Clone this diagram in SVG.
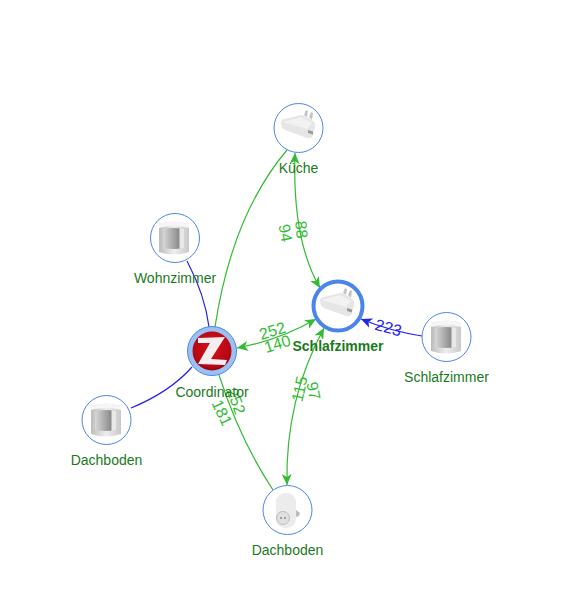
<svg xmlns="http://www.w3.org/2000/svg" width="581" height="595" viewBox="0 0 581 595">
<style>
.n{fill:#fff;stroke:#4a86e8;stroke-width:1}
.t{font-family:"Liberation Sans",Arial,sans-serif;font-size:14px;fill:#1a7a1a;text-anchor:middle}
.b{font-weight:bold}
.g{fill:none;stroke:#33bb33;stroke-width:1.2}
.u{fill:none;stroke:#2222ee;stroke-width:1.2}
.lg{font-family:"Liberation Sans",Arial,sans-serif;font-size:16px;fill:#33bb33;text-anchor:middle}
.lu{font-family:"Liberation Sans",Arial,sans-serif;font-size:16px;fill:#2222ee;text-anchor:middle}
</style>
<defs>
<marker id="ag" markerUnits="userSpaceOnUse" markerWidth="12" markerHeight="10" refX="11" refY="5" orient="auto-start-reverse"><path d="M0 0L11 5L0 10L3 5Z" fill="#33bb33"/></marker>
<marker id="au" markerUnits="userSpaceOnUse" markerWidth="12" markerHeight="10" refX="11" refY="5" orient="auto"><path d="M0 0L11 5L0 10L3 5Z" fill="#2222ee"/></marker>
<linearGradient id="sg" x1="0" x2="1" y1="0" y2="0"><stop offset="0" stop-color="#d8d8d8"/><stop offset=".75" stop-color="#8c8c8c"/><stop offset=".82" stop-color="#e8e8e8"/><stop offset="1" stop-color="#e8e8e8"/></linearGradient>
<linearGradient id="sb" x1="0" x2="1" y1="0" y2="0"><stop offset="0" stop-color="#bdbdbd"/><stop offset=".5" stop-color="#eeeeee"/><stop offset="1" stop-color="#c8c8c8"/></linearGradient>
<radialGradient id="zg" cx=".5" cy=".4" r=".65"><stop offset="0" stop-color="#d8101c"/><stop offset=".8" stop-color="#b00814"/><stop offset="1" stop-color="#7a0010"/></radialGradient>
<g id="sensor"><path d="M-15 -14Q0 -19 15 -14V14Q0 19 -15 14Z" fill="url(#sb)"/><path d="M-15 -14Q0 -19 15 -14V-10Q0 -14 -15 -10Z" fill="#f6f6f6"/><path d="M-11 -9Q0 -11 10 -9V10Q0 12 -11 10Z" fill="url(#sg)"/></g>
<g id="charger"><path d="M6 -10L8 -15L10 -14L9 -8M11 -8L13 -13L15 -12L14 -5" fill="#c4c4c4"/><path d="M-17 -2Q-17 -6 -13 -6L3 -10Q6 -10 9 -8L15 -4Q18 -2 17 2L15 10Q14 14 9 13L-13 5Q-17 3 -17 -2Z" fill="#e6e6e6"/><path d="M-15 -3L3 -8L14 -2L9 4Z" fill="#f2f2f2"/><path d="M10 5l5 1.500v3l-5-1.500Z" fill="#9a9a9a"/></g>
</defs>
<g id="connectors">
<path class="g" d="M215 327Q232 215 287 150"/>
<path class="u" d="M187 261Q205 295 209 327"/>
<path class="u" d="M131 408Q170 392 192 367"/>
<path class="g" d="M237 348Q280 340 316 319" marker-start="url(#ag)" marker-end="url(#ag)"/>
<path class="g" d="M295 153Q292 240 320 288" marker-start="url(#ag)" marker-end="url(#ag)"/>
<path class="g" d="M324 328Q285 400 287 485" marker-start="url(#ag)" marker-end="url(#ag)"/>
<path class="g" d="M219 375Q240 440 273 490"/>
<path class="u" d="M422 336Q390 331 361 319" marker-end="url(#au)"/>
<text class="lg" transform="translate(274 336) rotate(-17)">252</text>
<text class="lg" transform="translate(279 349) rotate(-17)">140</text>
<text class="lg" transform="translate(296 230) rotate(85)">88</text>
<text class="lg" transform="translate(280 234) rotate(80)">94</text>
<text class="lg" transform="translate(305 390) rotate(-78)">115</text>
<text class="lg" transform="translate(308 392) rotate(78)">97</text>
<text class="lg" transform="translate(231 403) rotate(70)">252</text>
<text class="lg" transform="translate(217 415) rotate(65)">181</text>
<text class="lu" transform="translate(387 333) rotate(15)">223</text>
</g>
<g id="node-kueche"><circle class="n" cx="298.500" cy="128" r="24.500"/><use href="#charger" x="298" y="125"/><text class="t" x="298.500" y="173">Küche</text></g>
<g id="node-wohnzimmer"><circle class="n" cx="175" cy="238" r="24.500"/><use href="#sensor" x="174" y="238"/><text class="t" x="175" y="283">Wohnzimmer</text></g>
<g id="node-coordinator"><circle cx="212" cy="351" r="24.500" fill="#9cc0f2" stroke="#4a86e8"/><circle cx="212" cy="351" r="19.500" fill="url(#zg)"/><path d="M198 338L225 337L211 359L227 360L225 365L198 364L210 343L198 343Z" fill="#f6eeee"/><text class="t" x="212" y="397">Coordinator</text></g>
<g id="node-dachboden-sensor"><circle class="n" cx="106.500" cy="420" r="24.500"/><use href="#sensor" x="106" y="420"/><text class="t" x="106.500" y="465">Dachboden</text></g>
<g id="node-schlafzimmer-router"><circle cx="338" cy="306" r="24.500" fill="#fff" stroke="#4a86e8" stroke-width="4"/><use href="#charger" x="337" y="303"/><text class="t b" x="338" y="351">Schlafzimmer</text></g>
<g id="node-schlafzimmer-sensor"><circle class="n" cx="446.500" cy="337" r="24.500"/><use href="#sensor" x="446" y="337"/><text class="t" x="446.500" y="382">Schlafzimmer</text></g>
<g id="node-dachboden-plug"><circle class="n" cx="287.500" cy="510" r="24.500"/><path d="M296 510L300 513L299 516L296 517Z" fill="#bbb"/><rect x="276" y="493" width="20" height="35" rx="9" fill="#ececec"/><circle cx="283" cy="518" r="6.500" fill="#e0e0e0" stroke="#bdbdbd"/><circle cx="281" cy="518" r="1" fill="#888"/><circle cx="285" cy="518" r="1" fill="#888"/><text class="t" x="287.500" y="555">Dachboden</text></g>
</svg>
